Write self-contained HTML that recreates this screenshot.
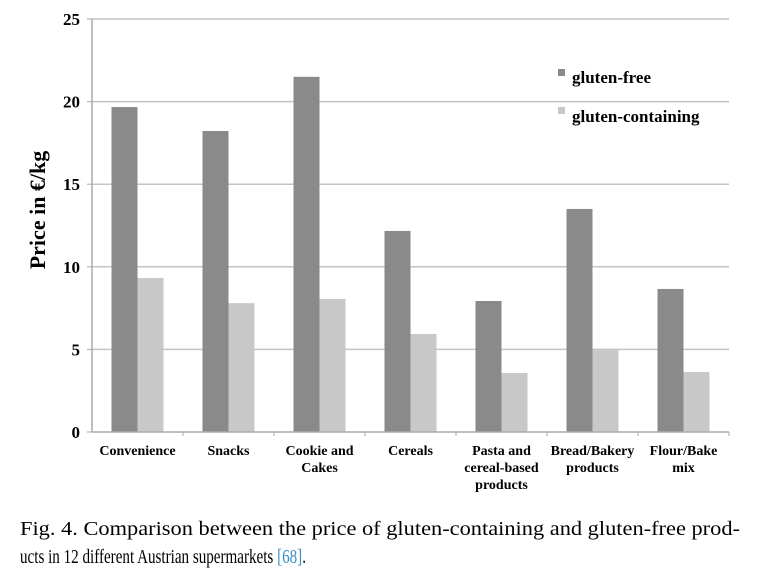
<!DOCTYPE html>
<html><head><meta charset="utf-8"><style>
html,body{margin:0;padding:0;background:#fff;}
svg{display:block;}
text{font-family:"Liberation Serif",serif;}
</style></head><body>
<svg id="chart" width="767" height="584" viewBox="0 0 767 584">
<g id="grid"></g>
<g id="bars"></g>
<g id="axes"></g>
<text transform="translate(45,210) rotate(-90)" text-anchor="middle" font-size="22" font-weight="bold">Price in €/kg</text>
<g>
<rect x="558" y="69" width="7" height="7" fill="#8a8a8a"/>
<text x="572" y="83" font-size="17" font-weight="bold">gluten-free</text>
<rect x="558" y="107" width="7" height="7" fill="#c8c8c8"/>
<text x="572" y="122" font-size="17" font-weight="bold">gluten-containing</text>
</g>
<g>
<text x="20" y="535" font-size="20" textLength="720" lengthAdjust="spacingAndGlyphs">Fig. 4.  Comparison between the price of gluten-containing and gluten-free prod-</text>
<text x="20" y="563" font-size="20" textLength="286" lengthAdjust="spacingAndGlyphs">ucts in 12 different Austrian supermarkets <tspan fill="#3a8fc0">[68]</tspan>.</text>
</g>
</svg>
<script>
const categories = [["Convenience"],["Snacks"],["Cookie and","Cakes"],["Cereals"],["Pasta and","cereal-based","products"],["Bread/Bakery","products"],["Flour/Bake","mix"]];
const glutenFree = [19.67, 18.22, 21.5, 12.17, 7.93, 13.5, 8.66];
const glutenContaining = [9.32, 7.8, 8.05, 5.93, 3.57, 4.96, 3.63];
const yTicks = [0, 5, 10, 15, 20, 25];

const NS = "http://www.w3.org/2000/svg";
const X0 = 92, X1 = 729, Y0 = 432, Y1 = 19, YMAX = 25;
const bandW = (X1 - X0) / categories.length;
const y = v => Y0 - (v / YMAX) * (Y0 - Y1);
const xc = i => X0 + bandW * (i + 0.5);
function mk(tag, attrs, parent){const e=document.createElementNS(NS,tag);for(const k in attrs)e.setAttribute(k,attrs[k]);parent.appendChild(e);return e;}
const grid=document.getElementById('grid'), bars=document.getElementById('bars'), axes=document.getElementById('axes');

yTicks.forEach(t=>{
  if(t>0){
    const l=mk('line',{x1:X0,x2:X1,y1:y(t),y2:y(t),stroke:'#c4c4c4','stroke-width':1.5},grid);
    
    
  }
  const tk=mk('line',{x1:X0-5,x2:X0,y1:y(t),y2:y(t),stroke:'#aaa','stroke-width':1},axes);
  
  
  const tl=mk('text',{x:80,y:y(t)+6,'text-anchor':'end','font-size':17,'font-weight':'bold'},axes);
  tl.textContent=t;
  
  
});

const bw = 26;
categories.forEach((c,i)=>{
  const cx=xc(i);
  const b1=mk('rect',{x:cx-bw,y:y(glutenFree[i]),width:bw,height:Y0-y(glutenFree[i]),fill:'#8a8a8a'},bars);
  
  
  const b2=mk('rect',{x:cx,y:y(glutenContaining[i]),width:bw,height:Y0-y(glutenContaining[i]),fill:'#c8c8c8'},bars);
  
  
  const tx=mk('text',{x:cx,y:455,'text-anchor':'middle','font-size':14,'font-weight':'bold'},axes);
  
  
  c.forEach((ln,j)=>{const ts=mk('tspan',{x:cx,y:455+j*17},tx);ts.textContent=ln;});
  const xt=mk('line',{x1:X0+bandW*(i+1),x2:X0+bandW*(i+1),y1:Y0,y2:Y0+4,stroke:'#aaa','stroke-width':1},axes);
  
  
});
const ya=mk('line',{x1:X0,x2:X0,y1:Y1,y2:Y0,stroke:'#aaa','stroke-width':1.5},axes);


const xa=mk('line',{x1:X0,x2:X1,y1:Y0,y2:Y0,stroke:'#aaa','stroke-width':1.5},axes);


</script>
</body></html>
